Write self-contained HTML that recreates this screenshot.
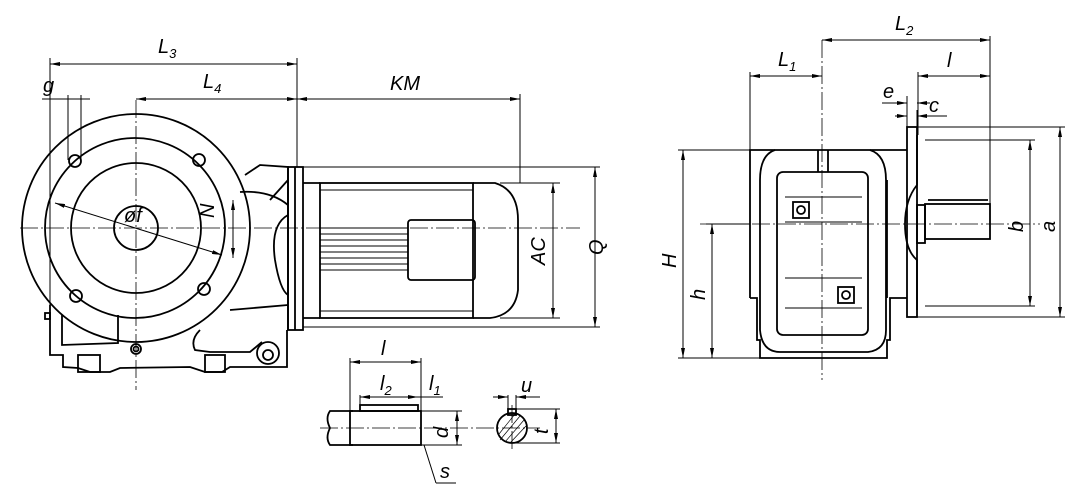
<!DOCTYPE html>
<html><head><meta charset="utf-8"><style>
html,body{margin:0;padding:0;background:#fff;width:1075px;height:493px;overflow:hidden}
svg{display:block}
text{font-family:"Liberation Sans",sans-serif;font-style:italic;font-size:20px;fill:#000}
</style></head><body>
<svg width="1075" height="493" viewBox="0 0 1075 493" xmlns="http://www.w3.org/2000/svg">
<defs>
<marker id="a" viewBox="0 0 10 4" refX="10" refY="2" markerWidth="10" markerHeight="4" orient="auto-start-reverse" markerUnits="userSpaceOnUse"><path d="M0,0L10,2L0,4z"/></marker>
</defs>
<g fill="none" stroke="#000">
<g stroke-width="0.8" stroke-dasharray="18,3,2,3">
<line x1="20" y1="228" x2="580" y2="228"/>
<line x1="136" y1="100" x2="136" y2="390"/>
<line x1="700" y1="224" x2="1040" y2="224"/>
<line x1="822" y1="40" x2="822" y2="380"/>
<line x1="320" y1="428" x2="540" y2="428"/>
<line x1="512" y1="405" x2="512" y2="452"/>
</g>
<g stroke-width="1.8">
<circle cx="136" cy="228" r="114"/>
<circle cx="135" cy="228" r="90"/>
<circle cx="136" cy="228" r="65"/>
<circle cx="136" cy="228" r="22"/>
<circle cx="75" cy="161" r="6"/><circle cx="199" cy="160" r="6"/>
<circle cx="76" cy="296" r="6"/><circle cx="204" cy="289" r="6"/>
<path d="M245,175 L260,165 L288,167 L288,330"/>
<path d="M240,192 Q270,190 288,205"/>
<path d="M270,200 L288,180"/>
<path d="M288,215 Q270,225 275,260 Q280,290 288,295"/>
<path d="M230,310 L288,305"/>
<path d="M50,305 L50,355 L63,355 L63,367 L78,368 L90,372 L110,372 L120,368 L190,367 L205,372 L222,372 L230,367 L287,367 L287,330"/>
<path d="M62,315 L62,345 L118,343 L118,315"/>
<path d="M200,330 Q190,340 195,350 L210,352 L250,352 L262,342"/>
<circle cx="268" cy="353" r="11"/><circle cx="268" cy="355" r="5"/>
<circle cx="136" cy="349" r="5"/><circle cx="136" cy="349" r="2.5"/>
<rect x="78" y="355" width="22" height="17"/><rect x="205" y="355" width="20" height="17"/>
<rect x="45" y="313" width="5" height="6"/>
<rect x="288" y="167" width="15" height="163"/>
<line x1="295" y1="167" x2="295" y2="330"/>
<path d="M303,183 L320,183 M303,318 L320,318"/>
<rect x="320" y="183" width="153" height="135"/>
<path d="M473,183 L495,183 Q518,190 518,220 L518,290 Q515,315 490,318 L473,318"/>
<rect x="408" y="220" width="67" height="60" rx="3"/>
</g>
<g stroke-width="1">
<path d="M320,190 L473,190 M320,311 L473,311"/>
<path d="M320,228 L408,228 M320,234 L408,234 M320,240 L408,240 M320,246 L408,246 M320,252 L408,252 M320,258 L408,258 M320,264 L408,264 M320,270 L408,270"/>
<line x1="55" y1="203" x2="222" y2="255" marker-start="url(#a)" marker-end="url(#a)"/>
<line x1="233" y1="200" x2="233" y2="258" marker-start="url(#a)" marker-end="url(#a)"/>
<line x1="50" y1="64" x2="297" y2="64" marker-start="url(#a)" marker-end="url(#a)"/>
<line x1="136" y1="99" x2="297" y2="99" marker-start="url(#a)" marker-end="url(#a)"/>
<line x1="297" y1="99" x2="520" y2="99" marker-start="url(#a)" marker-end="url(#a)"/>
<line x1="42" y1="99" x2="90" y2="99"/>
<line x1="50" y1="58" x2="50" y2="305"/>
<line x1="68" y1="95" x2="68" y2="160"/><line x1="81" y1="95" x2="81" y2="160"/>
<line x1="297" y1="58" x2="297" y2="167"/>
<line x1="520" y1="94" x2="520" y2="183"/>
<line x1="500" y1="183" x2="560" y2="183"/><line x1="500" y1="318" x2="560" y2="318"/>
<line x1="303" y1="167" x2="600" y2="167"/><line x1="303" y1="327" x2="600" y2="327"/>
<line x1="553" y1="183" x2="553" y2="318" marker-start="url(#a)" marker-end="url(#a)"/>
<line x1="595" y1="167" x2="595" y2="327" marker-start="url(#a)" marker-end="url(#a)"/>
</g>
<!-- right view -->
<g stroke-width="1.8">
<path d="M750,298 L750,150 L907,150"/>
<path d="M750,298 L757,298 L757,340 L760,340 L760,358 L887,358 L887,340 L890,340 L890,298 L907,298"/>
<line x1="887" y1="180" x2="887" y2="298"/>
<path d="M775,150 Q760,155 760,180 L760,330 Q762,352 780,352 L868,352 Q886,350 886,330 L886,180 Q886,155 870,150"/>
<rect x="777" y="172" width="91" height="163" rx="6"/>
<line x1="818" y1="150" x2="818" y2="172"/><line x1="828" y1="150" x2="828" y2="172"/>
<rect x="793" y="202" width="16" height="16"/><circle cx="801" cy="210" r="4"/>
<rect x="838" y="287" width="16" height="16"/><circle cx="846" cy="295" r="4"/>
<rect x="907" y="127" width="10" height="190"/>
<path d="M917,135 L917,185 Q905,200 905,224 Q905,250 917,260 L917,310"/>
<rect x="917" y="205" width="8" height="38"/>
<rect x="925" y="204" width="65" height="35"/>
<line x1="928" y1="200" x2="988" y2="200"/>
</g>
<g stroke-width="1">
<path d="M785,197 L862,197 M785,222 L862,222 M785,278 L862,278 M785,308 L862,308"/>
<line x1="750" y1="72" x2="750" y2="150"/>
<line x1="907" y1="96" x2="907" y2="127"/><line x1="917" y1="110" x2="917" y2="127"/>
<line x1="918" y1="72" x2="918" y2="135"/>
<line x1="990" y1="36" x2="990" y2="204"/>
<line x1="750" y1="76" x2="822" y2="76" marker-start="url(#a)" marker-end="url(#a)"/>
<line x1="822" y1="40" x2="990" y2="40" marker-start="url(#a)" marker-end="url(#a)"/>
<line x1="918" y1="76" x2="990" y2="76" marker-start="url(#a)" marker-end="url(#a)"/>
<line x1="882" y1="103" x2="907" y2="103" marker-end="url(#a)"/>
<line x1="930" y1="103" x2="917" y2="103" marker-end="url(#a)"/>
<line x1="895" y1="116" x2="907" y2="116" marker-end="url(#a)"/>
<line x1="947" y1="116" x2="917" y2="116" marker-end="url(#a)"/>
<line x1="917" y1="127" x2="1065" y2="127"/><line x1="917" y1="317" x2="1065" y2="317"/>
<line x1="925" y1="140" x2="1035" y2="140"/><line x1="925" y1="306" x2="1035" y2="306"/>
<line x1="1030" y1="140" x2="1030" y2="306" marker-start="url(#a)" marker-end="url(#a)"/>
<line x1="1060" y1="127" x2="1060" y2="317" marker-start="url(#a)" marker-end="url(#a)"/>
<line x1="678" y1="150" x2="750" y2="150"/><line x1="678" y1="358" x2="760" y2="358"/>
<line x1="706" y1="224" x2="750" y2="224"/>
<line x1="683" y1="150" x2="683" y2="358" marker-start="url(#a)" marker-end="url(#a)"/>
<line x1="712" y1="224" x2="712" y2="358" marker-start="url(#a)" marker-end="url(#a)"/>
</g>
<g stroke-width="1.8">
<path d="M353,411 L330,411 Q325,418 330,428 Q325,438 330,445 L353,445"/>
<rect x="350" y="411" width="71" height="34"/>
<rect x="360" y="405" width="58" height="6"/>
<circle cx="512" cy="428" r="15"/>
<rect x="508" y="409" width="8" height="6"/>
</g>
<g stroke-width="1">
<line x1="350" y1="358" x2="350" y2="411"/><line x1="421" y1="358" x2="421" y2="411"/>
<line x1="360" y1="395" x2="360" y2="405"/>
<line x1="350" y1="362" x2="421" y2="362" marker-start="url(#a)" marker-end="url(#a)"/>
<line x1="360" y1="397" x2="418" y2="397" marker-start="url(#a)" marker-end="url(#a)"/>
<line x1="418" y1="397" x2="443" y2="397"/>
<line x1="421" y1="411" x2="462" y2="411"/><line x1="421" y1="445" x2="462" y2="445"/>
<line x1="457" y1="411" x2="457" y2="445" marker-start="url(#a)" marker-end="url(#a)"/>
<line x1="424" y1="445" x2="436" y2="483"/><line x1="436" y1="483" x2="456" y2="483"/>
<line x1="493" y1="397" x2="508" y2="397" marker-end="url(#a)"/>
<line x1="540" y1="397" x2="516" y2="397" marker-end="url(#a)"/>
<line x1="508" y1="395" x2="508" y2="409"/><line x1="516" y1="395" x2="516" y2="409"/>
<line x1="516" y1="409" x2="560" y2="409"/><line x1="512" y1="443" x2="560" y2="443"/>
<line x1="556" y1="409" x2="556" y2="443" marker-start="url(#a)" marker-end="url(#a)"/>
<path d="M500,440 L520,416 M505,442 L524,420 M499,434 L515,414 M510,443 L526,426" stroke-width="0.7"/>
</g>
</g>
<g>
<text x="158" y="53">L<tspan font-size="13" dy="5">3</tspan></text>
<text x="203" y="88">L<tspan font-size="13" dy="5">4</tspan></text>
<text x="390" y="90">KM</text>
<text x="43" y="92">g</text>
<text x="124" y="222" font-size="18">øf</text>
<text transform="translate(214,218) rotate(-90)">N</text>
<text transform="translate(545,265) rotate(-90)">AC</text>
<text transform="translate(603,255) rotate(-90)">Q</text>
<text x="778" y="66">L<tspan font-size="13" dy="5">1</tspan></text>
<text x="895" y="30">L<tspan font-size="13" dy="5">2</tspan></text>
<text x="947" y="67">l</text>
<text x="883" y="98">e</text>
<text x="929" y="112">c</text>
<text transform="translate(1023,232) rotate(-90)">b</text>
<text transform="translate(1055,232) rotate(-90)">a</text>
<text transform="translate(676,268) rotate(-90)">H</text>
<text transform="translate(705,300) rotate(-90)">h</text>
<text x="381" y="355">l</text>
<text x="380" y="390">l<tspan font-size="13" dy="5">2</tspan></text>
<text x="429" y="390">l<tspan font-size="13" dy="5">1</tspan></text>
<text transform="translate(448,438) rotate(-90)">d</text>
<text x="440" y="478">s</text>
<text x="521" y="392">u</text>
<text transform="translate(548,434) rotate(-90)">t</text>
</g>
</svg>
</body></html>
